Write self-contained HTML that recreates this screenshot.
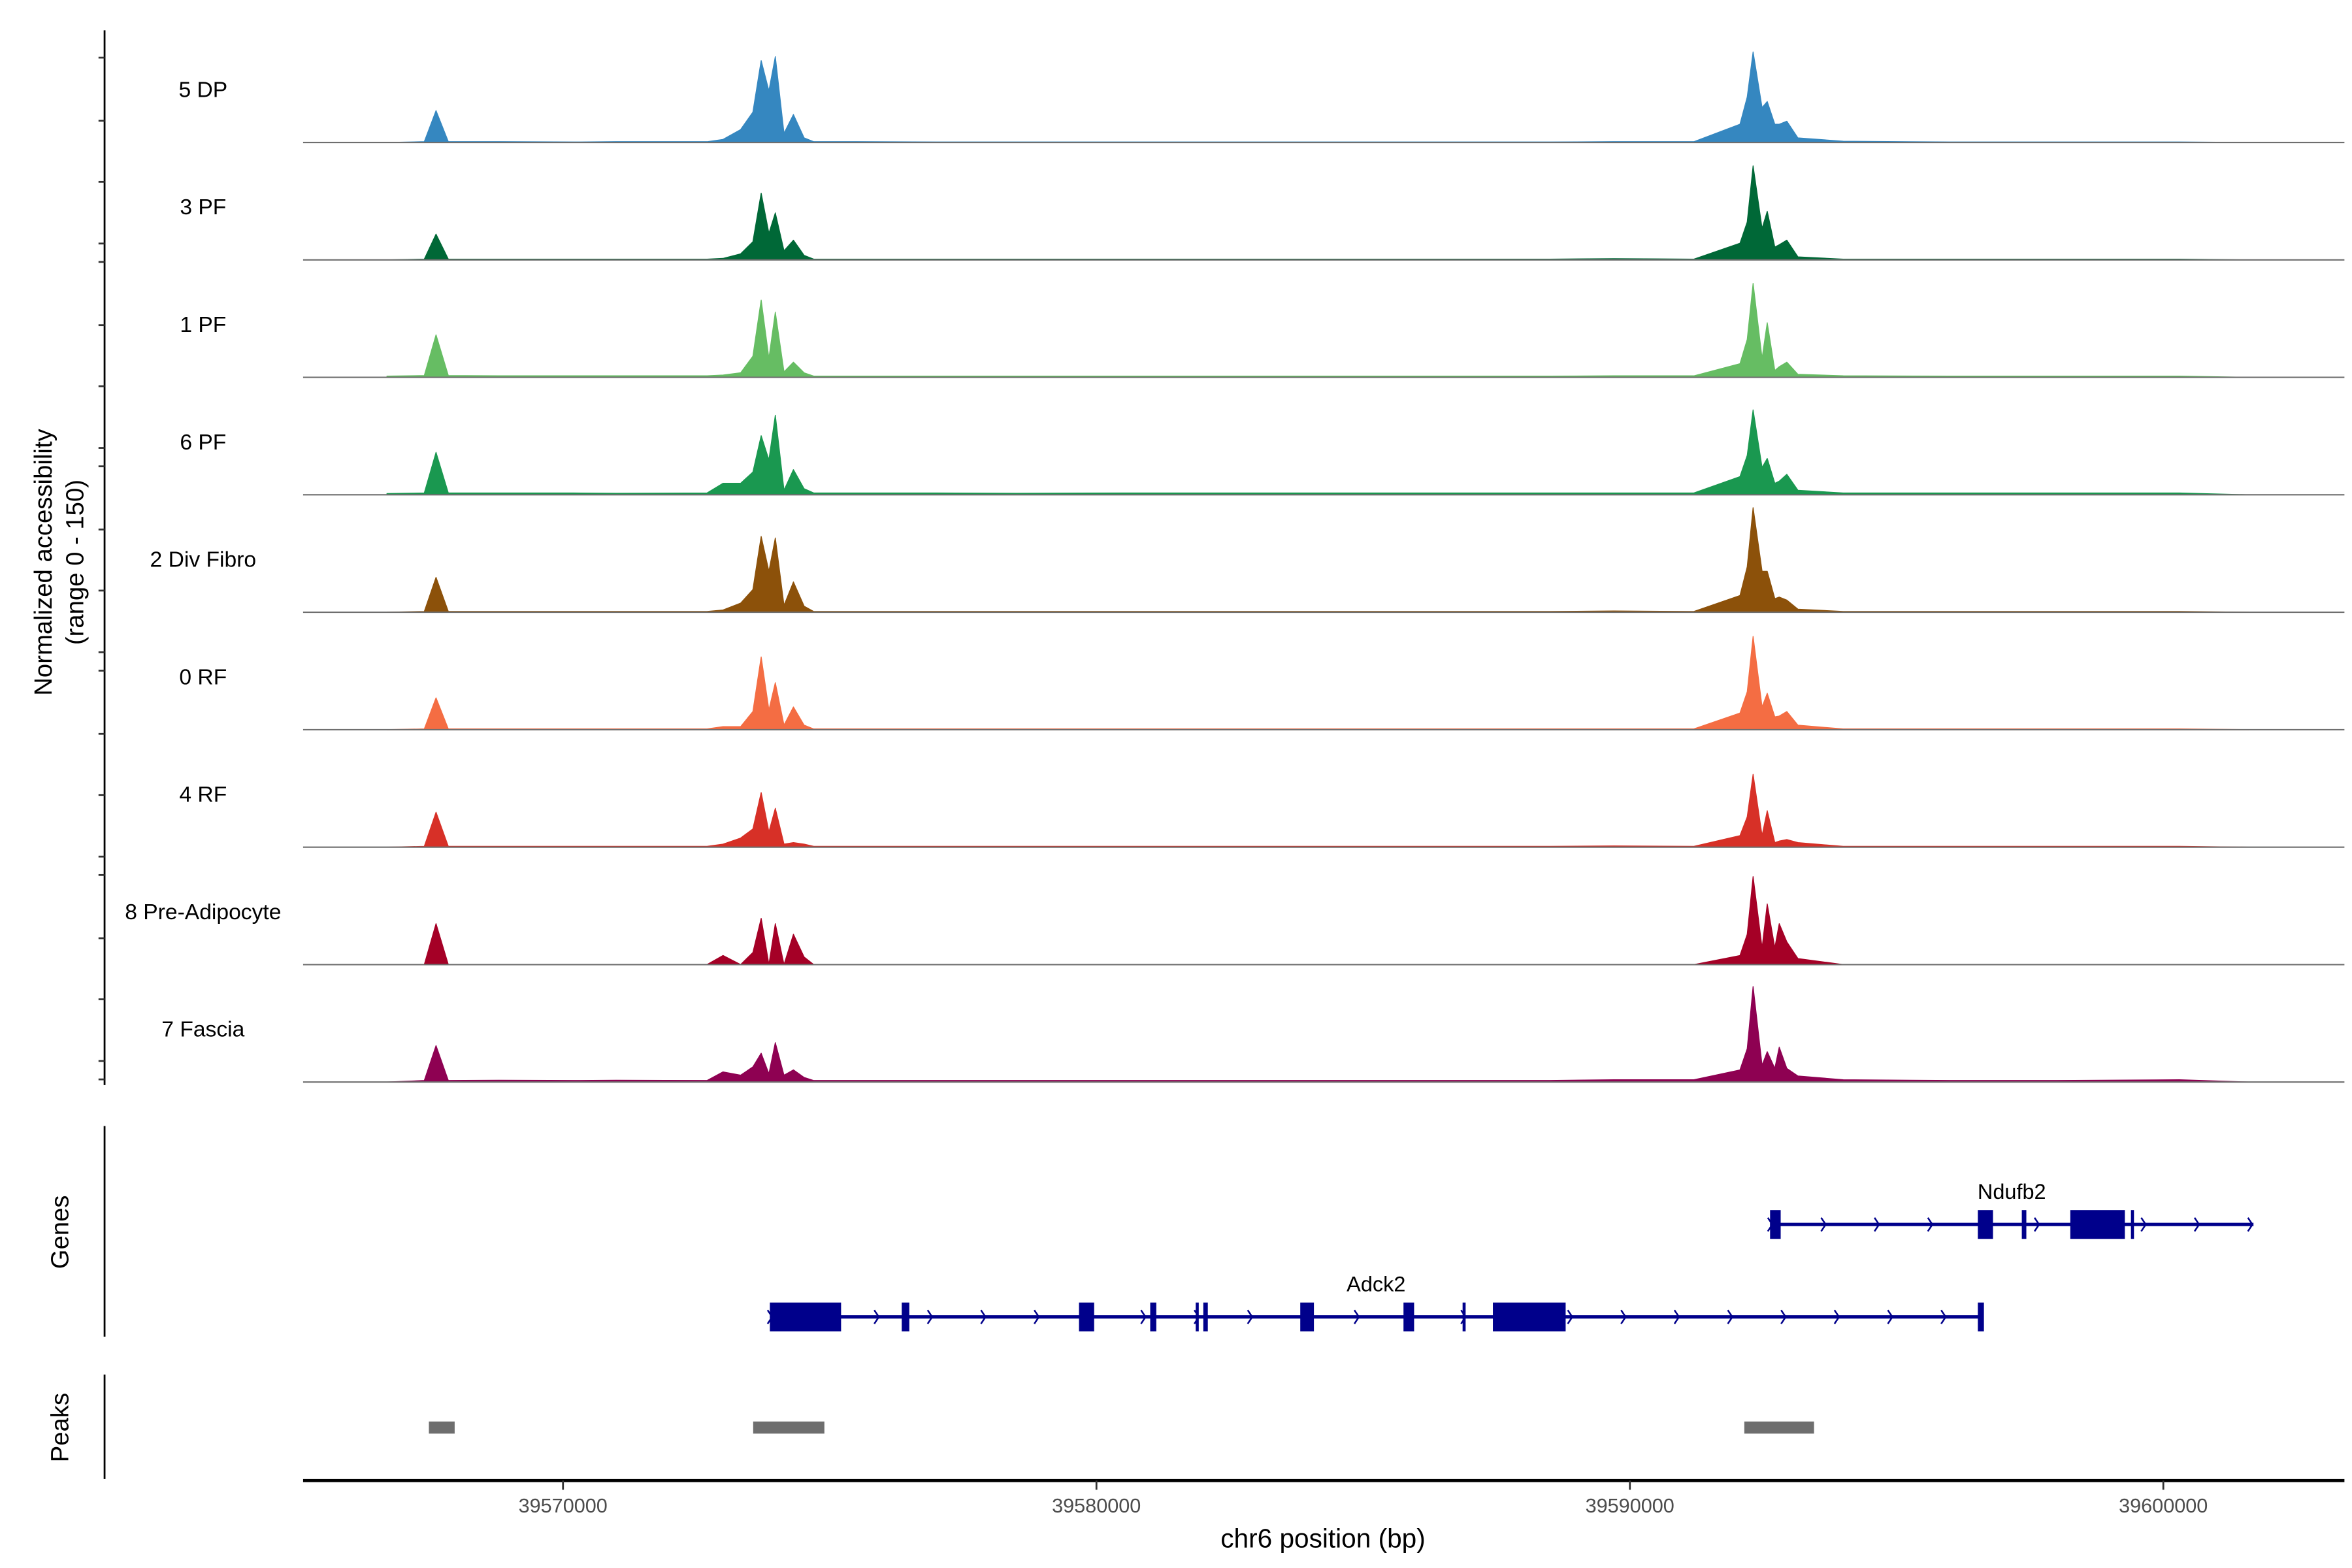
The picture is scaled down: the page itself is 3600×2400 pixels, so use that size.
<!DOCTYPE html>
<html><head><meta charset="utf-8"><style>
html,body{margin:0;padding:0;background:#fff;}
svg{display:block;font-family:"Liberation Sans",Arial,sans-serif;}
</style></head><body>
<svg id="chart" width="3600" height="2400" viewBox="0 0 1552 1034.67" xmlns="http://www.w3.org/2000/svg">
<text transform="translate(34,371) rotate(-90)" text-anchor="middle" font-size="16.5" fill="#000">Normalized accessibility</text>
<text transform="translate(55,371) rotate(-90)" text-anchor="middle" font-size="16.5" fill="#000">(range 0 - 150)</text>
<line x1="69" y1="20" x2="69" y2="716" stroke="#000" stroke-width="1.2"/>
<line x1="69" y1="743" x2="69" y2="882" stroke="#000" stroke-width="1.2"/>
<text transform="translate(45,813) rotate(-90)" text-anchor="middle" font-size="16.5" fill="#000">Genes</text>
<line x1="69" y1="907" x2="69" y2="976" stroke="#000" stroke-width="1.2"/>
<text transform="translate(45,942) rotate(-90)" text-anchor="middle" font-size="16.5" fill="#000">Peaks</text>
<line x1="200" y1="977" x2="1547" y2="977" stroke="#000" stroke-width="2"/>
<text x="873" y="1021" text-anchor="middle" font-size="17.5" fill="#000">chr6 position (bp)</text>
<g id="tracks"></g><g id="genes"></g><g id="peaks"></g><g id="xaxis"></g><g id="yticks"></g>
</svg>
<script>
const trackNames = ["5 DP","3 PF","1 PF","6 PF","2 Div Fibro","0 RF","4 RF","8 Pre-Adipocyte","7 Fascia"];
const trackColors = ["#3587c0","#006837","#66bd63","#1a9850","#8c510a","#f46d43","#d73027","#a50026","#8e0152"];
const positions = [39566700,39567400,39567620,39567850,39568800,39570200,39571000,39572700,39573000,39573330,39573560,39573715,39573860,39573980,39574143,39574320,39574520,39574700,39575500,39577000,39578500,39580500,39583000,39586000,39588500,39589700,39591200,39592064,39592200,39592310,39592478,39592575,39592717,39592800,39592942,39593150,39594000,39596000,39598000,39600300,39601600];
const vals5DP = [0,0.5,21,0.5,0.5,0.3,0.5,0.5,2,8.5,20,54,34,56.6,6,18.4,3,0.5,0.5,0.3,0.3,0.3,0.3,0.3,0.3,0.5,0.5,12,30,59.7,23,27,12,12,14,3,0.8,0.3,0.3,0.3,0];
const vals3PF = [0,0.5,17,0.5,0.5,0.5,0.5,0.5,1,4,12,44,17.5,31,6,13,3,0.5,0.5,0.5,0.5,0.5,0.5,0.5,0.5,0.8,0.5,11,25,62,20.7,32,8.5,10,13,2,0.5,0.5,0.5,0.5,0];
const vals1PF = [0.8,1.2,28,1.2,1,1,1,1,1.5,3,14,51,12.5,43,3.6,10,3,0.8,0.8,0.8,0.8,0.8,0.8,0.8,0.8,1,1,9,25,62,12.5,36,4.5,7,10,2,1,0.8,0.8,0.8,0];
const vals6PF = [0.8,1.2,28,1.2,1.2,1.2,1,1.2,7.6,7.6,15,39,23,52.5,3,16.6,4,1.2,1.2,1.2,1,1.2,1.2,1.2,1.2,1.2,1.2,12,26,56,18,24,7.6,9,13.5,3,1.2,1.2,1.2,1.2,0];
const vals2Div = [0,0.5,23,0.5,0.5,0.5,0.5,0.5,1.5,6,15,50,27,49,4.5,20,4,0.5,0.5,0.5,0.5,0.5,0.5,0.5,0.5,0.8,0.5,11,30,69,27,27,9,10,8,2,0.5,0.5,0.5,0.5,0];
const vals0RF = [0,0.5,21,0.5,0.5,0.5,0.5,0.5,2,2,12,48,13,31,3,15,3,0.5,0.5,0.5,0.5,0.5,0.5,0.5,0.5,0.5,0.5,11,25,61.5,15,24,8.5,9,12,3,0.5,0.5,0.5,0.5,0];
const vals4RF = [0,0.5,23,0.5,0.5,0.5,0.5,0.5,2,6,12,36,10,25.6,2,3,2,0.5,0.5,0.5,0.5,0.5,0.5,0.5,0.5,0.8,0.5,7.6,20,48,7.6,24,3,4,5,3,0.5,0.5,0.5,0.5,0];
const vals8PA = [0,0,27,0,0,0,0,0,6,0,8,30.5,0,27,0,20,5,0,0,0,0,0,0,0,0,0,0,6,20,58,11,40,11,27,15,4,0,0,0,0,0];
const vals7Fa = [0,1,24,1,1.2,1,1.2,1,6.7,4.5,10,19,5.4,26,4.5,8,3,1,1,1,1,1,1,1,1,1.5,1.5,8,22,63,11,20,9,23,9,4,1.5,1,1,1.5,0];
const trackValues = [vals5DP,vals3PF,vals1PF,vals6PF,vals2Div,vals0RF,vals4RF,vals8PA,vals7Fa];
const xTicks = [39570000,39580000,39590000,39600000];
const xTickLabels = ["39570000","39580000","39590000","39600000"];
const adck2Span = [39573878,39596608];
const adck2Exons = [[39573878,39575213],[39576350,39576492],[39579673,39579957],[39581008,39581122],[39581861,39581918],[39582003,39582088],[39583821,39584077],[39585756,39585955],[39586864,39586921],[39587432,39588796],[39596523,39596637]];
const ndufb2Span = [39592628,39601690];
const ndufb2Exons = [[39592628,39592827],[39596523,39596807],[39597347,39597432],[39598256,39599279],[39599393,39599450]];
const peakRegions = [[39567486,39567969],[39573565,39574900],[39592145,39593452]];

const NS="http://www.w3.org/2000/svg";
function mk(tag,attrs,parent){const e=document.createElementNS(NS,tag);for(const k in attrs)e.setAttribute(k,attrs[k]);parent.appendChild(e);return e;}
function xScale(bp){return 371.5+(bp-39570000)*0.0352;}
const yMax=64, trackPx=64;
function yScale(v,base){return base - v/yMax*trackPx;}
const baseTop=94, spacing=77.5;

const gT=document.getElementById('tracks');
trackNames.forEach((name,i)=>{
  const base=baseTop+i*spacing;
  const lbl=mk('text',{x:134,y:base-30,'text-anchor':'middle','font-size':'14.5',fill:'#000'},gT);
  
  
  lbl.textContent=name;
  const vals=trackValues[i];
  let d='M'+xScale(positions[0]).toFixed(2)+','+base;
  positions.forEach((p,j)=>{d+=' L'+xScale(p).toFixed(2)+','+yScale(vals[j],base).toFixed(2);});
  d+=' L'+xScale(positions[positions.length-1]).toFixed(2)+','+base+' Z';
  const area=mk('path',{d:d,fill:trackColors[i],stroke:trackColors[i],'stroke-width':'0.6','stroke-linejoin':'round'},gT);
  
  
  const bl=mk('line',{x1:200,x2:1547,y1:base,y2:base,stroke:'#6e6e6e','stroke-width':'0.9'},gT);
  
  
});

const gY=document.getElementById('yticks');
for(let k=0;k<6;k++){
  [0,41.7,82,122.7].forEach(off=>{
    const y=38+134.85*k+off;
    if(y<=716){
      const t=mk('line',{x1:65,x2:69,y1:y,y2:y,stroke:'#333','stroke-width':'1.2'},gY);
      
      
    }
  });
}

const gG=document.getElementById('genes');
const geneColor='#00008b';
function drawGene(name,span,exons,y,labelY){
  const ln=mk('line',{x1:xScale(span[0]),x2:xScale(span[1]),y1:y,y2:y,stroke:geneColor,'stroke-width':'2.2'},gG);
  
  
  const x0=xScale(span[0]),x1=xScale(span[1]);
  for(let x=x0;x<=x1+0.1;x+=35.2){
    const ar=mk('path',{d:'M'+(x-1.5)+','+(y-4.5)+' L'+(x+1.5)+','+y+' L'+(x-1.5)+','+(y+4.5),fill:'none',stroke:geneColor,'stroke-width':'1.1'},gG);
    
    
  }
  exons.forEach(ex=>{
    const xa=xScale(ex[0]),xb=xScale(ex[1]);
    const r=mk('rect',{x:xa,y:y-9.5,width:Math.max(xb-xa,1.8),height:19,fill:geneColor},gG);
    
    
  });
  const t=mk('text',{x:(x0+x1)/2,y:labelY,'text-anchor':'middle','font-size':'14',fill:'#000'},gG);
  
  
  t.textContent=name;
}
drawGene('Ndufb2',ndufb2Span,ndufb2Exons,808,791);
drawGene('Adck2',adck2Span,adck2Exons,869,852);

const gP=document.getElementById('peaks');
peakRegions.forEach(pr=>{
  const r=mk('rect',{x:xScale(pr[0]),y:938,width:xScale(pr[1])-xScale(pr[0]),height:8,fill:'#6e6e6e'},gP);
  
  
});

const gX=document.getElementById('xaxis');
xTicks.forEach((t,i)=>{
  const x=xScale(t);
  const tk=mk('line',{x1:x,x2:x,y1:977,y2:983,stroke:'#333','stroke-width':'1.2'},gX);
  
  
  const tl=mk('text',{x:x,y:998,'text-anchor':'middle','font-size':'13.2',fill:'#4d4d4d'},gX);
  
  
  tl.textContent=xTickLabels[i];
});
</script>
</body></html>
